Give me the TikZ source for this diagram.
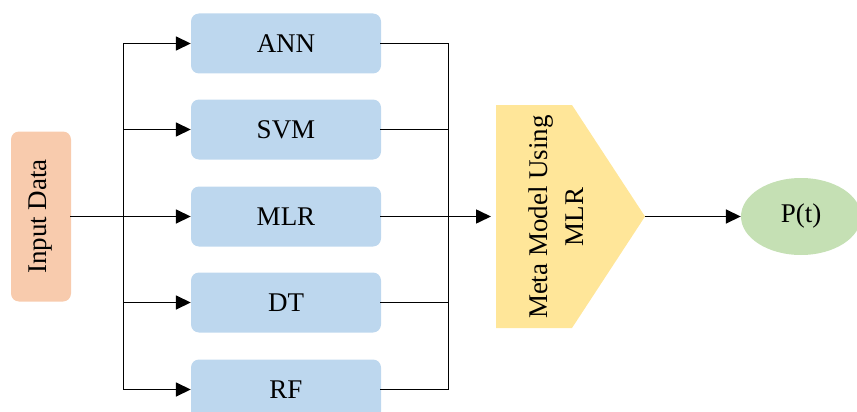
\documentclass[tikz,border=0pt]{standalone}
\usepackage{fontspec}
\setmainfont{Liberation Serif}
\usetikzlibrary{arrows.meta,shapes.geometric}
\definecolor{inbox}{HTML}{F8CBAD}
\definecolor{modelbox}{HTML}{BDD7EE}
\definecolor{metabox}{HTML}{FFE699}
\definecolor{outbox}{HTML}{C5E0B4}
\begin{document}
\begin{tikzpicture}[x=1pt,y=-1pt,
  font=\fontsize{27}{36}\selectfont,
  link/.style={line width=1.6pt, line cap=rect},
  arr/.style={line width=1.6pt, -{Triangle[length=15pt,width=14pt]}},
  model/.style={fill=modelbox, rounded corners=8pt, minimum width=190pt,
    minimum height=60pt, inner sep=0pt},
]
\useasboundingbox (0,0) rectangle (857,412);
\clip (0,0) rectangle (857,412);

% input block (rotated, so its right side is the south anchor)
\node[fill=inbox, rounded corners=8pt, rotate=90, minimum width=170pt,
  minimum height=60pt, inner sep=0pt] (in) at (41,216.5) {Input Data};

% base learners
\node[model] (ann) at (286,43.5)  {ANN};
\node[model] (svm) at (286,129.5) {SVM};
\node[model] (mlr) at (286,216.5) {MLR};
\node[model] (dt)  at (286,302.5) {DT};
\node[model] (rf)  at (286,389.5) {RF};

% meta learner
\fill[metabox] (496,105) -- (572,105) -- (645,216.5) -- (572,328) -- (496,328) -- cycle;
\coordinate (metaL) at (491,216.5);
\coordinate (metaR) at (645,216.5);
\node[rotate=90, align=center] (meta) at (556,217) {Meta Model Using\\MLR};

% output
\node[ellipse, fill=outbox, minimum width=120pt, minimum height=77pt,
  inner sep=0pt] (out) at (801,216.5) {P(t)};

% fan-out bus
\coordinate (busL) at (123.5,216.5);
\draw[link] (in.south) -- (busL);
\draw[link] (busL |- ann.west) -- (busL |- rf.west);
\foreach \m in {ann,svm,mlr,dt,rf}
  \draw[arr] (busL |- \m.west) -- (\m.west);

% fan-in bus
\coordinate (busR) at (448.5,216.5);
\foreach \m in {ann,svm,mlr,dt,rf}
  \draw[link] (\m.east) -- (busR |- \m.east);
\draw[link] (busR |- ann.east) -- (busR |- rf.east);
\draw[arr] (busR) -- (metaL);

\draw[arr] (metaR) -- (out.west);
\end{tikzpicture}
\end{document}
